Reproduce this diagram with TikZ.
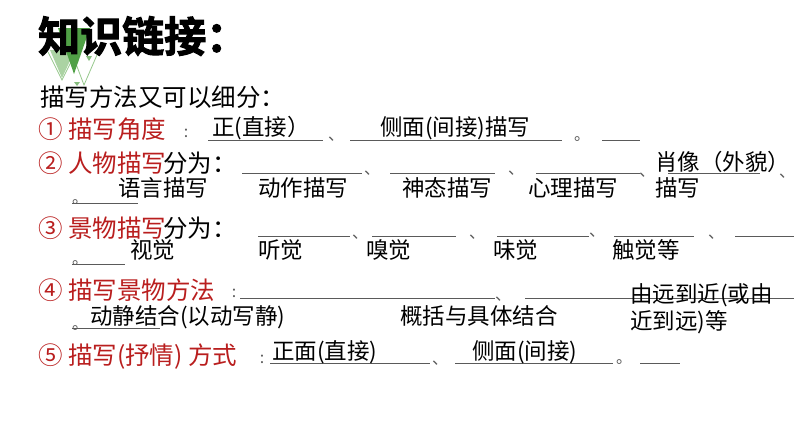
\documentclass[tikz,border=0pt]{standalone}
\usepackage{fontspec}
\setmainfont{Noto Sans CJK SC}
\newfontfamily\titlefont[FakeBold=2.5]{Noto Sans CJK SC Bold}
\definecolor{rd}{RGB}{185,30,30}
\definecolor{ln}{RGB}{90,90,90}
\definecolor{g1}{RGB}{80,160,70}
\definecolor{g2}{RGB}{150,200,140}
\begin{document}
\begin{tikzpicture}[x=1pt,y=-1pt,
 t/.style={anchor=base west,inner sep=0,font=\fontsize{24.5}{26}\selectfont},
 a/.style={anchor=base west,inner sep=0,font=\fontsize{22.5}{24}\selectfont},
 r/.style={t,text=rd},
 u/.style={draw=ln,line width=0.8pt},
 d/.style={anchor=base,inner sep=0,font=\fontsize{16}{16}\selectfont,text=ln}]
\useasboundingbox (0,0) rectangle (794,447);
% decoration
\fill[g2,opacity=0.8] (50,50) -- (75,50) -- (62,78) -- cycle;
\draw[g2,line width=0.8pt] (48,52) -- (62,80) -- (76,52);
\draw[g2,line width=0.8pt] (70,48) -- (84,85) -- (100,48);
\fill[g1] (58,28) -- (90,28) -- (74,74) -- cycle;
\fill[g1!70] (86,56) -- (92,56) -- (89,61) -- cycle;
\fill[g1!70] (74,82) -- (80,82) -- (77,86) -- cycle;
\node[anchor=base west,inner sep=0,font=\fontsize{42}{44}\selectfont\titlefont] (title) at (38,52) {知识链接：};
\node[t] (intro) at (40,106) {描写方法又可以细分：};
% row 1
\node[r] (h1) at (38,138) {① 描写角度};
\node[d] (c1) at (186,137) {:};
\draw[u] (208,140) coordinate(l1a) -- (323,140) coordinate(l1b);
\node[a] (a11) at (212,135) {正(直接）};
\node[d] (s1) at (336,140) {、};
\draw[u] (350,140) coordinate(l1c) -- (562,140) coordinate(l1d);
\node[a] (a12) at (380,135) {侧面(间接)描写};
\node[d] (p1) at (582,140) {。};
\draw[u] (602,140) coordinate(l1e) -- (640,140) coordinate(l1f);
% row 2
\node[r] (h2) at (38,172) {② 人物描写};
\node[t] (f2) at (163,172) {分为：};
\draw[u] (242,173) coordinate(l2a) -- (362,173) coordinate(l2b);
\node[d] (s21) at (372,174) {、};
\draw[u] (390,173) coordinate(l2c) -- (495,173) coordinate(l2d);
\node[d] (s22) at (516,174) {、};
\draw[u] (536,173) coordinate(l2e) -- (640,173) coordinate(l2f);
\node[d] (s23) at (647,176) {、};
\draw[u] (668,173) coordinate(l2g) -- (760,173) coordinate(l2h);
\node[d] (s24) at (787,177) {、};
\node[d] (p2) at (80,203) {。};
\draw[u] (72,203) coordinate(l2i) -- (138,203) coordinate(l2j);
\node[a] (a21) at (118,196) {语言描写};
\node[a] (a22) at (258,196) {动作描写};
\node[a] (a23) at (402,196) {神态描写};
\node[a] (a24) at (528,196) {心理描写};
\node[a] (a25) at (655,170) {肖像（外貌）};
\node[a] (a26) at (655,196) {描写};
% row 3
\node[r] (h3) at (38,237) {③ 景物描写};
\node[t] (f3) at (163,237) {分为：};
\draw[u] (258,236) coordinate(l3a) -- (350,236) coordinate(l3b);
\node[d] (s31) at (360,238) {、};
\draw[u] (372,236) coordinate(l3c) -- (456,236) coordinate(l3d);
\node[d] (s32) at (477,238) {、};
\draw[u] (497,236) coordinate(l3e) -- (589,236) coordinate(l3f);
\node[d] (s33) at (597,236) {、};
\draw[u] (614,236) coordinate(l3g) -- (694,236) coordinate(l3h);
\node[d] (s34) at (716,238) {、};
\draw[u] (735,236) coordinate(l3i) -- (794,236) coordinate(l3j);
\node[d] (p3) at (80,264) {。};
\draw[u] (72,264) coordinate(l3k) -- (125,264) coordinate(l3l);
\node[a] (a31) at (130,258) {视觉};
\node[a] (a32) at (258,258) {听觉};
\node[a] (a33) at (366,258) {嗅觉};
\node[a] (a34) at (493,258) {味觉};
\node[a] (a35) at (612,258) {触觉等};
% row 4
\node[r] (h4) at (38,299) {④ 描写景物方法};
\node[d] (c4) at (234,297) {:};
\draw[u] (240,298) coordinate(l4a) -- (495,298) coordinate(l4b);
\node[d] (s41) at (503,300) {、};
\draw[u] (525,298) coordinate(l4c) -- (794,298) coordinate(l4d);
\node[a] (a43) at (630,302) {由远到近(或由};
\node[a] (a44) at (630,329) {近到远)等};
\node[d] (p4) at (80,329) {。};
\draw[u] (72,328) coordinate(l4e) -- (160,328) coordinate(l4f);
\node[a] (a41) at (90,324) {动静结合(以动写静)};
\node[a] (a42) at (400,324) {概括与具体结合};
% row 5
\node[r] (h5) at (38,364) {⑤ 描写(抒情) 方式};
\node[d] (c5) at (262,363) {:};
\draw[u] (270,363) coordinate(l5a) -- (430,363) coordinate(l5b);
\node[d] (s51) at (440,364) {、};
\draw[u] (455,363) coordinate(l5c) -- (613,363) coordinate(l5d);
\node[d] (p5) at (624,363) {。};
\draw[u] (640,363) coordinate(l5e) -- (680,363) coordinate(l5f);
\node[a] (a51) at (272,359) {正面(直接)};
\node[a] (a52) at (472,359) {侧面(间接)};
\end{tikzpicture}
\end{document}
